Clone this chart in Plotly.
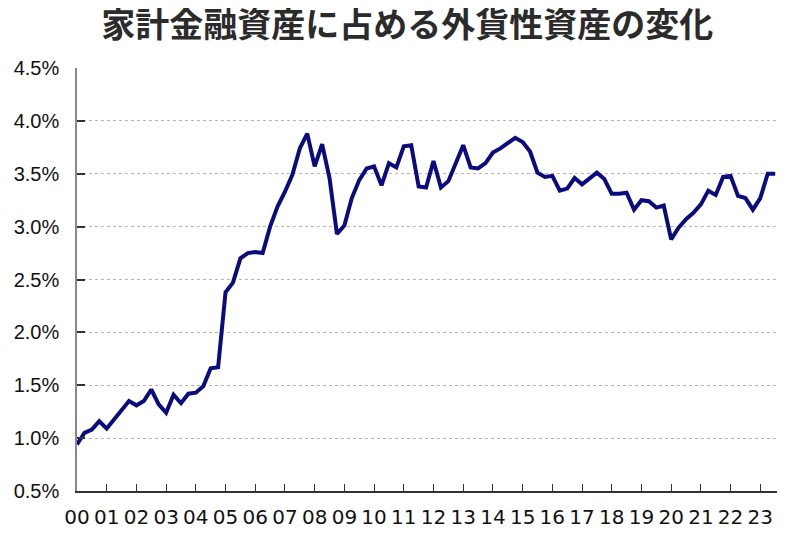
import plotly.graph_objects as go

title_text = "家計金融資産に占める外貨性資産の変化"

year_labels = ["00", "01", "02", "03", "04", "05", "06", "07", "08", "09", "10", "11",
               "12", "13", "14", "15", "16", "17", "18", "19", "20", "21", "22", "23"]

# quarterly share of foreign-currency assets (%), 2000Q1 .. 2023Q3
share_pct = [
    0.94, 1.05, 1.08, 1.16, 1.09, 1.18, 1.27, 1.35,
    1.31, 1.35, 1.46, 1.32, 1.24, 1.41, 1.33, 1.42,
    1.43, 1.49, 1.66, 1.67, 2.38, 2.47, 2.70, 2.75,
    2.76, 2.75, 3.00, 3.19, 3.33, 3.49, 3.74, 3.88,
    3.57, 3.78, 3.46, 2.93, 3.01, 3.27, 3.44, 3.55,
    3.57, 3.39, 3.60, 3.56, 3.76, 3.77, 3.38, 3.37,
    3.62, 3.37, 3.43, 3.59, 3.77, 3.56, 3.55, 3.60,
    3.70, 3.74, 3.79, 3.84, 3.80, 3.71, 3.51, 3.47,
    3.48, 3.34, 3.36, 3.46, 3.40, 3.46, 3.51, 3.45,
    3.31, 3.31, 3.32, 3.16, 3.25, 3.24, 3.18, 3.20,
    2.88, 2.99, 3.07, 3.13, 3.21, 3.34, 3.30, 3.47,
    3.48, 3.29, 3.27, 3.16, 3.27, 3.50, 3.50,
]

y_ticks = [0.5, 1.0, 1.5, 2.0, 2.5, 3.0, 3.5, 4.0, 4.5]
y_tick_text = [f"{v:.1f}%" for v in y_ticks]

quarter_index = list(range(len(share_pct)))
year_tick_pos = [4 * i for i in range(len(year_labels))]

fig = go.Figure()
fig.add_trace(go.Scatter(
    x=quarter_index, y=share_pct, mode="lines",
    line=dict(color="#0b0b80", width=4),
    hoverinfo="skip", showlegend=False,
))

font_main = "Liberation Sans, Arial, sans-serif"

# page body has an 8px default margin, so the figure is sized to fit the window
fig.update_layout(
    width=792, height=525,
    margin=dict(l=69, r=23, t=60, b=42),
    paper_bgcolor="white", plot_bgcolor="white",
    title=dict(
        text=f"<b>{title_text}</b>",
        font=dict(family="Noto Sans CJK JP", size=34, color="#2b2b2b"),
        x=0.504, xanchor="center", y=0.968, yanchor="middle",
        automargin=False,
    ),
    xaxis=dict(
        range=[0, 94.25], automargin=False,
        tickmode="array", tickvals=year_tick_pos, ticktext=year_labels,
        ticks="inside", ticklen=7, tickcolor="#333", tickwidth=1,
        showline=True, linecolor="#333", linewidth=1.5,
        showgrid=False, zeroline=False,
        tickfont=dict(family="DejaVu Sans", size=20, color="#111"),
        ticklabelstandoff=7,
    ),
    yaxis=dict(
        range=[0.5, 4.5], automargin=False,
        tickmode="array", tickvals=y_ticks, ticktext=y_tick_text,
        ticks="inside", ticklen=8, tickcolor="#333", tickwidth=1.5,
        showline=True, linecolor="#888", linewidth=1.5,
        showgrid=True, gridcolor="#b5b5b5", griddash="dot", gridwidth=1,
        zeroline=False,
        tickfont=dict(family=font_main, size=20, color="#111"),
        ticklabelstandoff=12,
    ),
)

fig.write_html("out.html")
